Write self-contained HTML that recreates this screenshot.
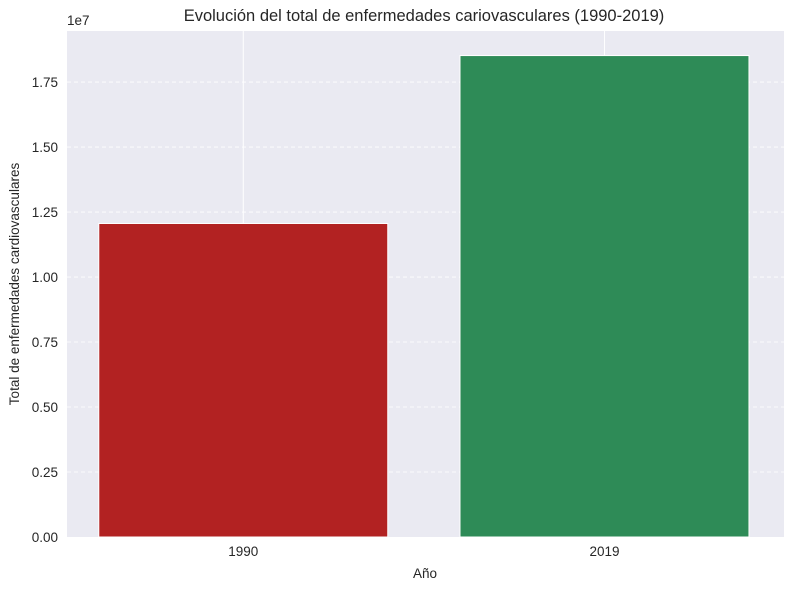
<!DOCTYPE html>
<html><head><meta charset="utf-8"><style>
body{margin:0;background:#fff;font-family:"Liberation Sans","DejaVu Sans",sans-serif}
svg text{font-family:"Liberation Sans","DejaVu Sans",sans-serif;fill:#262626}
</style></head><body>
<svg id="chart" width="790" height="590" xmlns="http://www.w3.org/2000/svg">
<rect x="67" y="31" width="717" height="506" fill="#eaeaf2"/>
<g id="grid"></g><g id="bars"></g><g id="ticks"></g>
<text x="424" y="21" font-size="16.5" text-anchor="middle">Evolución del total de enfermedades cariovasculares (1990-2019)</text>
<text x="67" y="25" font-size="13.5">1e7</text>
<text x="425" y="578" font-size="13.5" text-anchor="middle">Año</text>
<text transform="translate(19,284) rotate(-90)" font-size="13.5" text-anchor="middle">Total de enfermedades cardiovasculares</text>
</svg>
<script>
const categories=["1990","2019"];
const values=[12060000,18520000];
const colors=["#b22222","#2e8b57"];
const yTicks=[0,0.25,0.5,0.75,1.0,1.25,1.5,1.75];
const yTickLabels=["0.00","0.25","0.50","0.75","1.00","1.25","1.50","1.75"];
const NS="http://www.w3.org/2000/svg";
const L=67,R=784,T=31,B=537;
const yMax=1.9465e7, xMin=-0.488, xMax=1.497;
const y=v=>B-(v/yMax)*(B-T);
const x=i=>L+(i-xMin)/(xMax-xMin)*(R-L);
function mk(t,a,p){const e=document.createElementNS(NS,t);for(const k in a)e.setAttribute(k,a[k]);p.appendChild(e);return e;}
const g=document.getElementById('grid'),b=document.getElementById('bars'),tk=document.getElementById('ticks');
yTicks.forEach((t,i)=>{const yy=y(t*1e7);
 if(i>0){const l=mk('line',{x1:L,x2:R,y1:yy,y2:yy,stroke:'#fff','stroke-dasharray':'4,3','stroke-width':0.8},g);
 
 }
 const tx=mk('text',{x:L-9,y:yy+5,'font-size':13.5,'text-anchor':'end'},tk);tx.textContent=yTickLabels[i];
 
 });
categories.forEach((c,i)=>{const cx=x(i);
 const l=mk('line',{x1:cx,x2:cx,y1:T,y2:B,stroke:'#fff','stroke-width':1},g);
 
 
 const w=(x(0.4)-x(-0.4));
 const r=mk('rect',{x:cx-w/2,y:y(values[i]),width:w,height:B-y(values[i]),fill:colors[i],stroke:'#fff','stroke-width':1},b);
 
 
 const tx=mk('text',{x:cx,y:B+19,'font-size':13.5,'text-anchor':'middle'},tk);tx.textContent=c;
 
 });
</script>
</body></html>
